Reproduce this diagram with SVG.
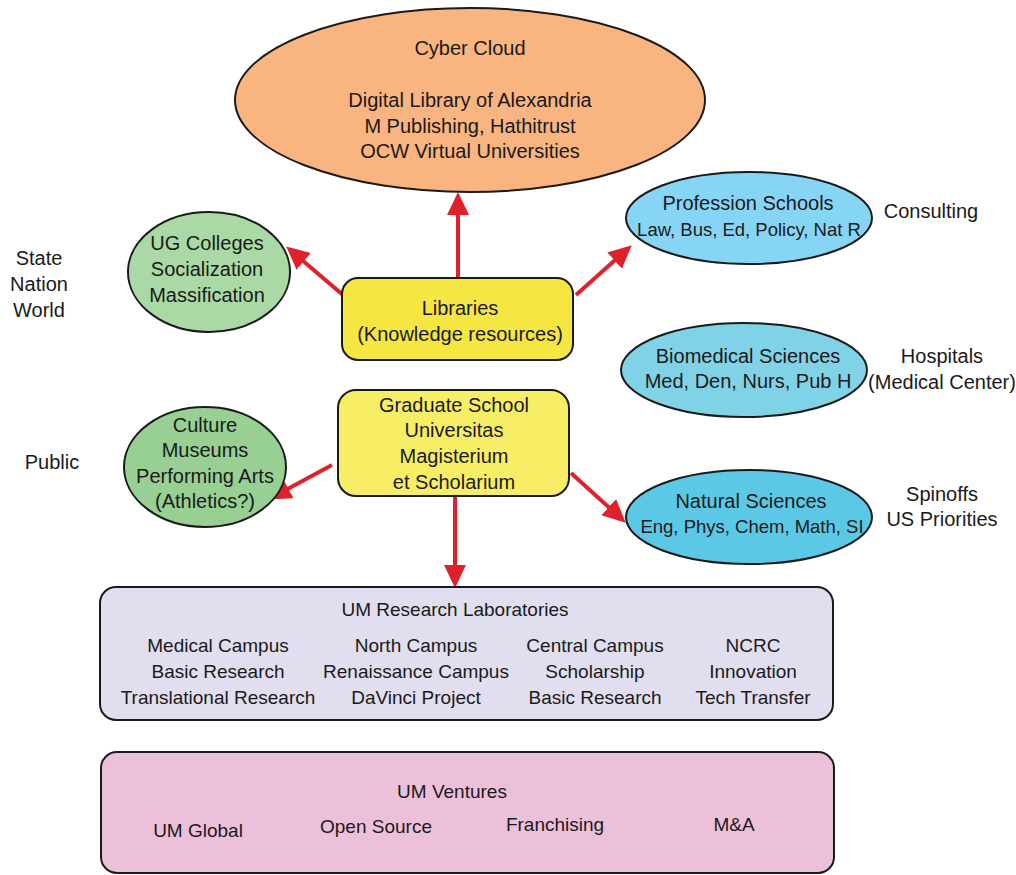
<svg xmlns="http://www.w3.org/2000/svg" width="1016" height="875" viewBox="0 0 1016 875">
<defs>
<marker id="ah" markerUnits="userSpaceOnUse" markerWidth="24" markerHeight="22" refX="3" refY="11" orient="auto">
<path d="M0,0 L23,11 L0,22 Z" fill="#E0202A"/>
</marker>
<style>
text{font-family:"Liberation Sans",Arial,sans-serif;font-size:20px;fill:#1a1a1a;text-anchor:middle}
.sm{font-size:19px}
.xs{font-size:18.5px}
.n{stroke:#1a1a1a;stroke-width:2}
.c{stroke:#E0202A;stroke-width:4;fill:none;marker-end:url(#ah)}
</style>
</defs>
<rect width="1016" height="875" fill="#fff"/>
<g id="connectors">
<line class="c" x1="458" y1="278" x2="458" y2="212"/>
<line class="c" x1="343" y1="295" x2="301.4" y2="259.4"/>
<line class="c" x1="576" y1="295" x2="616.8" y2="258.6"/>
<line class="c" x1="332" y1="465" x2="285.7" y2="490"/>
<line class="c" x1="571" y1="473" x2="610.9" y2="509.2"/>
<line class="c" x1="455" y1="496" x2="455" y2="568"/>
</g>
<g id="cyber-cloud">
<ellipse class="n" cx="470" cy="100" rx="235" ry="92" fill="#F9B47F"/>
<text x="470" y="55">Cyber Cloud</text>
<text x="470" y="107">Digital Library of Alexandria</text>
<text x="470" y="133">M Publishing, Hathitrust</text>
<text x="470" y="158">OCW Virtual Universities</text>
</g>
<g id="ug-colleges">
<ellipse class="n" cx="209" cy="272" rx="81" ry="60" fill="#ABD9A6"/>
<text x="207" y="250">UG Colleges</text>
<text x="207" y="276">Socialization</text>
<text x="207" y="302">Massification</text>
</g>
<g id="state-label">
<text x="39" y="265">State</text>
<text x="39" y="291">Nation</text>
<text x="39" y="317">World</text>
</g>
<g id="culture">
<ellipse class="n" cx="205" cy="467" rx="81" ry="60" fill="#98CF92"/>
<text x="205" y="432">Culture</text>
<text x="205" y="457">Museums</text>
<text x="205" y="483">Performing Arts</text>
<text x="205" y="508">(Athletics?)</text>
</g>
<g id="public-label">
<text x="52" y="469">Public</text>
</g>
<g id="libraries">
<rect class="n" x="342" y="278" width="231" height="82" rx="16" fill="#F5E642"/>
<text x="460" y="315">Libraries</text>
<text x="460" y="341">(Knowledge resources)</text>
</g>
<g id="graduate-school">
<rect class="n" x="338" y="390" width="231" height="106" rx="18" fill="#F8EE66"/>
<text x="454" y="412">Graduate School</text>
<text x="454" y="437">Universitas</text>
<text x="454" y="463">Magisterium</text>
<text x="454" y="489">et Scholarium</text>
</g>
<g id="profession-schools">
<ellipse class="n" cx="749" cy="218" rx="123" ry="46" fill="#87D5F5"/>
<text x="748" y="210">Profession Schools</text>
<text class="xs" x="749" y="236">Law, Bus, Ed, Policy, Nat R</text>
</g>
<g id="consulting-label">
<text x="931" y="218">Consulting</text>
</g>
<g id="biomedical-sciences">
<ellipse class="n" cx="744" cy="370" rx="123" ry="47" fill="#80D2E6"/>
<text x="748" y="363">Biomedical Sciences</text>
<text x="748" y="388">Med, Den, Nurs, Pub H</text>
</g>
<g id="hospitals-label">
<text x="942" y="363">Hospitals</text>
<text x="942" y="389">(Medical Center)</text>
</g>
<g id="natural-sciences">
<ellipse class="n" cx="749" cy="517" rx="123" ry="47" fill="#5BC8E6"/>
<text x="751" y="508">Natural Sciences</text>
<text class="xs" x="752" y="533">Eng, Phys, Chem, Math, SI</text>
</g>
<g id="spinoffs-label">
<text x="942" y="501">Spinoffs</text>
<text x="942" y="526">US Priorities</text>
</g>
<g id="research-labs">
<rect class="n" x="100" y="587" width="733" height="133" rx="16" fill="#E1DEEF"/>
<text class="sm" x="455" y="616">UM Research Laboratories</text>
<text class="sm" x="218" y="652">Medical Campus</text>
<text class="sm" x="218" y="678">Basic Research</text>
<text class="sm" x="218" y="704">Translational Research</text>
<text class="sm" x="416" y="652">North Campus</text>
<text class="sm" x="416" y="678">Renaissance Campus</text>
<text class="sm" x="416" y="704">DaVinci Project</text>
<text class="sm" x="595" y="652">Central Campus</text>
<text class="sm" x="595" y="678">Scholarship</text>
<text class="sm" x="595" y="704">Basic Research</text>
<text class="sm" x="753" y="652">NCRC</text>
<text class="sm" x="753" y="678">Innovation</text>
<text class="sm" x="753" y="704">Tech Transfer</text>
</g>
<g id="um-ventures">
<rect class="n" x="101" y="752" width="733" height="121" rx="16" fill="#EDC0DA"/>
<text class="sm" x="452" y="798">UM Ventures</text>
<text class="sm" x="198" y="837">UM Global</text>
<text class="sm" x="376" y="833">Open Source</text>
<text class="sm" x="555" y="831">Franchising</text>
<text class="sm" x="734" y="831">M&amp;A</text>
</g>
</svg>
